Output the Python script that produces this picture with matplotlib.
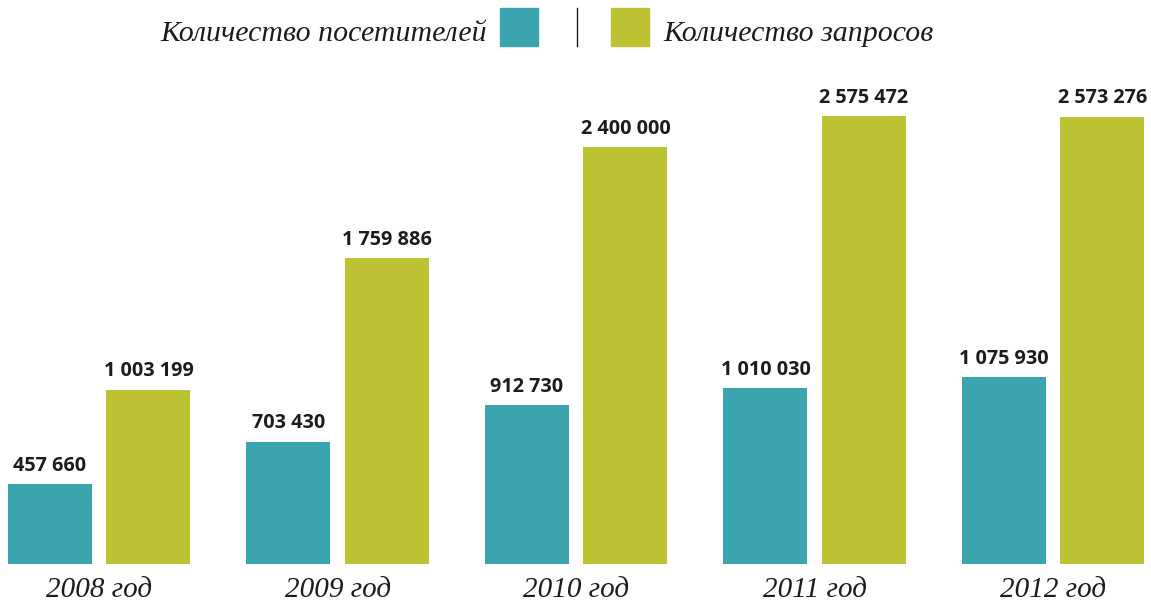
import matplotlib.pyplot as plt
from matplotlib.patches import Rectangle
from matplotlib.lines import Line2D
import numpy as np

years = ['2008 год', '2009 год', '2010 год', '2011 год', '2012 год']
visitors = [457660, 703430, 912730, 1010030, 1075930]
requests = [1003199, 1759886, 2400000, 2575472, 2573276]
series_names = ['Количество посетителей', 'Количество запросов']

teal = '#3aa5ae'
green = '#bcc232'
ink = '#1c1c1c'


def fmt(v):
    return '{:,}'.format(v).replace(',', ' ')


W, H = 1151, 605
fig = plt.figure(figsize=(W / 100, H / 100), dpi=100)
ax = fig.add_axes([0, 41 / H, 1, 564 / H])

x = np.arange(len(years))
w = 0.352
off = 0.2065
b1 = ax.bar(x - off, visitors, w, color=teal)
b2 = ax.bar(x + off, requests, w, color=green)

for bars, vals in ((b1, visitors), (b2, requests)):
    for r, v in zip(bars, vals):
        ax.annotate(fmt(v), (r.get_x() + r.get_width() / 2, v),
                    xytext=(0, 6), textcoords='offset points',
                    ha='center', va='bottom', fontsize=14.3, fontweight='bold',
                    family='Open Sans', color=ink)

ax.set_xlim(-0.416, 4.41)
ax.set_ylim(0, 3.245e6)
ax.axis('off')

for i, yr in enumerate(years):
    ax.annotate(yr, (x[i], 0), xytext=(0, -18.5), textcoords='offset points',
                ha='center', va='center', fontsize=21, style='italic',
                family='Liberation Serif', color=ink)

# legend on top
fig.text(487 / W, 1 - 34 / H, series_names[0], ha='right', va='center',
         fontsize=21.5, style='italic', family='Liberation Serif', color=ink)
fig.patches.append(Rectangle((500 / W, 1 - 46 / H), 38 / W, 38 / H,
                             transform=fig.transFigure, color=teal))
fig.lines.append(Line2D([577 / W, 577 / W], [1 - 46 / H, 1 - 8 / H],
                        transform=fig.transFigure, color=ink, lw=1))
fig.patches.append(Rectangle((611 / W, 1 - 46 / H), 38 / W, 38 / H,
                             transform=fig.transFigure, color=green))
fig.text(663 / W, 1 - 34 / H, series_names[1], ha='left', va='center',
         fontsize=21.5, style='italic', family='Liberation Serif', color=ink)

fig.savefig('out.png', dpi=100)
